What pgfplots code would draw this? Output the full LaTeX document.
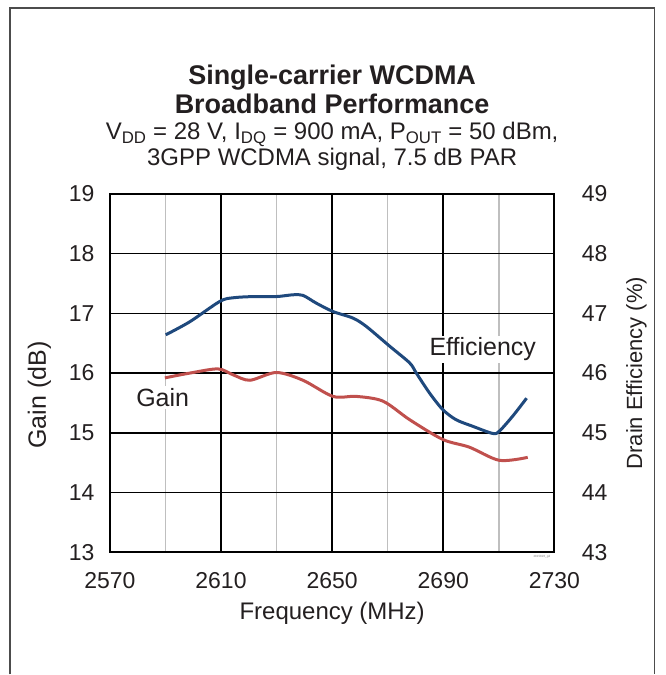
\documentclass[border=0pt]{standalone}
\usepackage{pgfplots}
\pgfplotsset{compat=1.18}
\usepackage{fontspec}
\setmainfont{Liberation Sans}
\usetikzlibrary{calc}
\definecolor{effblue}{RGB}{31,73,125}
\definecolor{gainred}{RGB}{192,80,77}
\definecolor{txt}{RGB}{35,31,32}
\begin{document}
\begin{tikzpicture}
\pgfplotsset{
  base/.style={width=445pt, height=359pt, scale only axis,
    xmin=2570, xmax=2730,
    /pgf/number format/assume math mode=true,
    /pgf/number format/1000 sep={},
    tick label style={font=\fontsize{23}{23}\selectfont, text=txt},
    label style={font=\fontsize{24}{24}\selectfont, text=txt},
    axis line style={line width=1.8pt},
    tick style={draw=none}}
}
\begin{axis}[base, name=ax,
  ymin=13, ymax=19, ytick={13,14,...,19},
  xtick={2570,2610,2650,2690,2730},
  minor xtick={2590,2630,2670,2710},
  grid=both,
  major grid style={black, line width=1.6pt},
  minor grid style={black!25, line width=1.6pt},
  xlabel={Frequency (MHz)}, ylabel={Gain (dB)},
  xticklabel style={yshift=-17pt},
  yticklabel style={xshift=-12pt},
  xlabel style={yshift=-6pt},
  ylabel style={yshift=11pt, xshift=-22pt, font=\fontsize{25}{25}\selectfont},
]
\addplot[gainred, line width=3pt, smooth] coordinates {
(2589.8,15.92) (2598.8,16.00) (2608.9,16.07) (2614.4,15.97) (2620.4,15.88)
(2629.9,16.01) (2639.5,15.88) (2650.3,15.61) (2658.7,15.61) (2668.3,15.53)
(2677.9,15.22) (2689.8,14.89) (2699.4,14.76) (2710.2,14.54) (2720.4,14.59)};
\node[fill=white, inner sep=2pt, font=\fontsize{25}{25}\selectfont, text=txt] at (axis cs:2589,15.59) {Gain};
\node[fill=white, inner sep=2pt, font=\fontsize{25}{25}\selectfont, text=txt] at (axis cs:2704.2,16.40) {Efficiency};
\end{axis}
\begin{axis}[base,
  ymin=43, ymax=49, ytick={43,44,...,49},
  axis x line=none, axis y line*=right,
  ylabel={Drain Efficiency (\%)},
  yticklabel style={xshift=24pt},
  ylabel style={yshift=-12pt, font=\fontsize{22}{22}\selectfont},
]
\addplot[effblue, line width=3pt, smooth] coordinates {
(2590.1,46.64) (2598.8,46.86) (2609.6,47.20) (2614.4,47.26) (2621.6,47.28)
(2629.9,47.28) (2635.9,47.31) (2639.5,47.30) (2644.3,47.17) (2650.3,47.03)
(2657.5,46.92) (2662.3,46.78) (2670.7,46.45) (2677.9,46.17) (2680.3,46.00)
(2685.0,45.67) (2689.8,45.39) (2694.6,45.22) (2700.6,45.11) (2707.8,44.99)
(2710.2,45.03) (2715.0,45.28) (2720.0,45.58)};
\end{axis}
\node[anchor=base, text=txt, font=\fontsize{27}{27}\selectfont\bfseries] at ($(ax.north)+(0,109pt)$) {Single-carrier WCDMA};
\node[anchor=base, text=txt, font=\fontsize{27}{27}\selectfont\bfseries] at ($(ax.north)+(0,80pt)$) {Broadband Performance};
\node[anchor=base, text=txt, font=\fontsize{24}{24}\selectfont] at ($(ax.north)+(0,54pt)$) {V\textsubscript{DD} = 28 V, I\textsubscript{DQ} = 900 mA, P\textsubscript{OUT} = 50 dBm,};
\node[anchor=base, text=txt, font=\fontsize{24}{24}\selectfont] at ($(ax.north)+(0,28pt)$) {3GPP WCDMA signal, 7.5 dB PAR};
\node[anchor=north east, text=black!50, font=\fontsize{3}{3}\selectfont, inner sep=0pt] at ($(ax.south east)+(-4pt,-3pt)$) {2815826\_gd};
\draw[black!70, line width=1.5pt] ($(ax.south west)+(-100pt,-122pt)$) -- ($(ax.north west)+(-100pt,186pt)$) -- ($(ax.north east)+(100pt,186pt)$) -- ($(ax.south east)+(100pt,-122pt)$);
\path[use as bounding box] ($(ax.south west)+(-110pt,-122pt)$) rectangle ($(ax.north east)+(111pt,194pt)$);
\end{tikzpicture}
\end{document}
